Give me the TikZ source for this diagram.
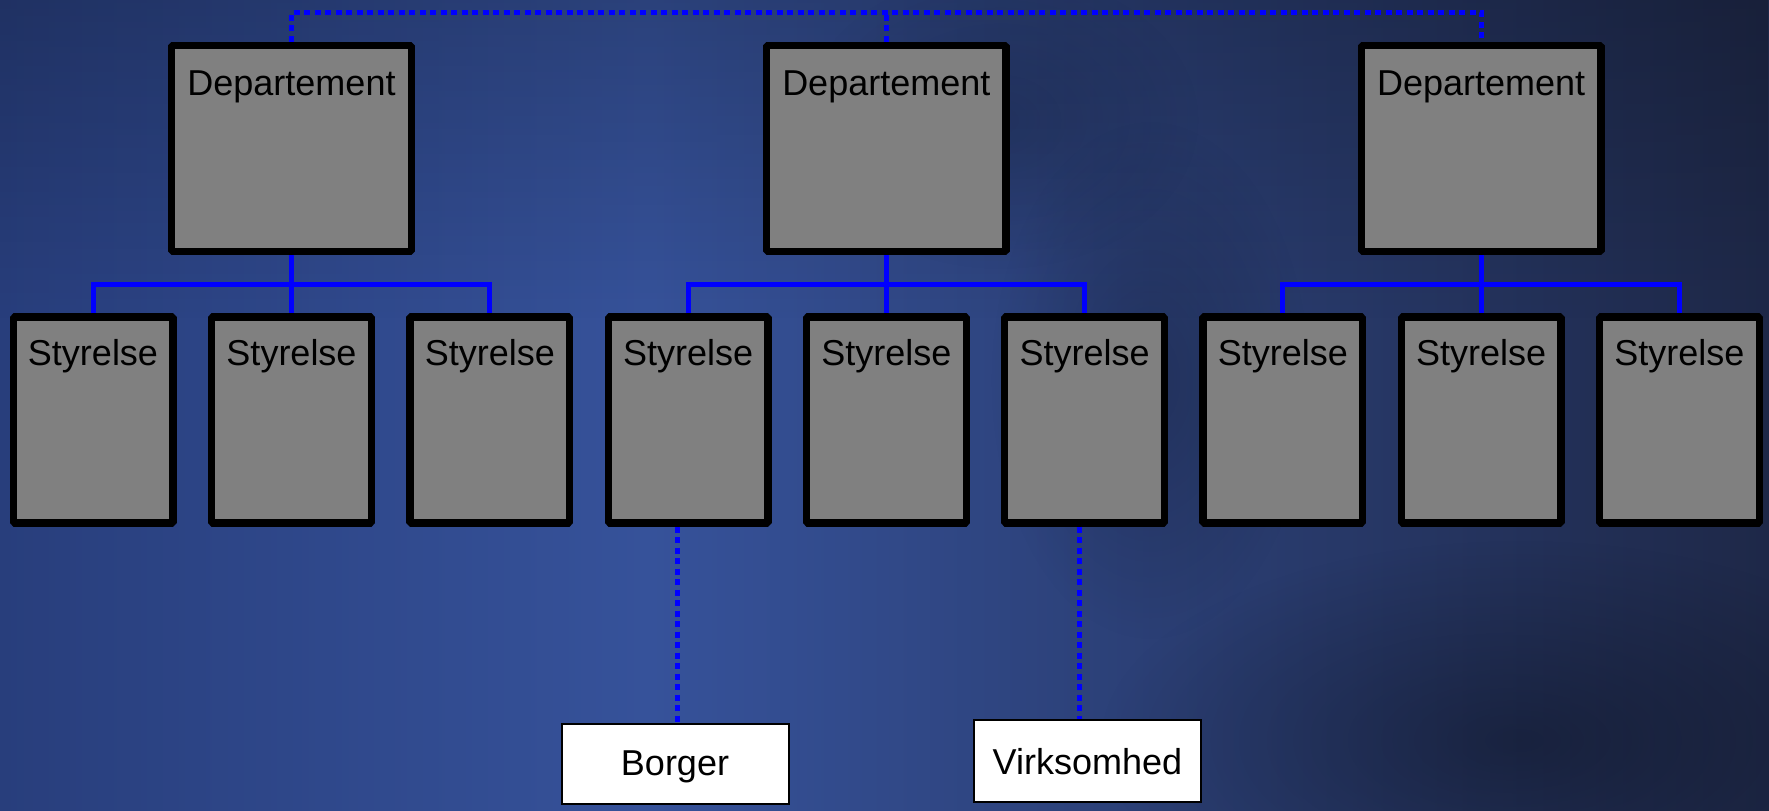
\documentclass[tikz,border=0pt]{standalone}
\usepackage{fontspec}
\setmainfont{Liberation Sans}
\usetikzlibrary{fadings}
\definecolor{boxgray}{RGB}{128,128,128}
\definecolor{bgA}{RGB}{40,62,124}
\definecolor{bgB}{RGB}{54,82,154}
\definecolor{bgC}{RGB}{30,40,72}
\definecolor{linkblue}{RGB}{0,0,255}
\tikzfading[name=topdark, top color=transparent!80, bottom color=transparent!100]
\tikzfading[name=softspot, inner color=transparent!0, outer color=transparent!100]
\begin{document}
\begin{tikzpicture}[x=0.5pt,y=-0.5pt,
  base/.style={draw=black,fill=boxgray,line join=bevel,inner sep=0pt,
    font=\fontsize{18pt}{20pt}\selectfont,text=black},
  deptbox/.style={base,line width=3.65pt,minimum width=119.75pt,text height=24.85pt,text depth=78.15pt},
  styrbox/.style={base,line width=3.65pt,minimum width=79.85pt,text height=24pt,text depth=79pt},
  extbox/.style={draw=black,fill=white,line width=1pt,inner sep=0pt,minimum width=113.5pt,
    font=\fontsize{18pt}{20pt}\selectfont,text=black},
  tree/.style={draw=linkblue,line width=2.5pt},
  dotline/.style={draw=linkblue,line width=2.5pt,dash pattern=on 3pt off 2.25pt}
]
\useasboundingbox (0,0) rectangle (1769,810);
% background
\shade[left color=bgA, right color=bgB] (0,0) rectangle (650,810);
\shade[left color=bgB, right color=bgC] (650,0) rectangle (1769,810);
\fill[black, path fading=topdark] (0,0) rectangle (1769,320);
\fill[black, opacity=0.3, path fading=softspot] (1520,740) ellipse (420 and 200);
\fill[black, opacity=0.2, path fading=softspot] (1150,380) ellipse (160 and 260);
\fill[black, opacity=0.15, path fading=softspot] (1000,120) ellipse (200 and 150);

% departments
\node[deptbox] (d1) at (291.5,148.3) {Departement};
\node[deptbox] (d2) at (886.3,148.3) {Departement};
\node[deptbox] (d3) at (1481.1,148.3) {Departement};

% styrelser
\node[styrbox] (s1) at (93,420) {Styrelse};
\node[styrbox] (s2) at (291.5,420) {Styrelse};
\node[styrbox] (s3) at (489.8,420) {Styrelse};
\node[styrbox] (s4) at (688.1,420) {Styrelse};
\node[styrbox] (s5) at (886.3,420) {Styrelse};
\node[styrbox] (s6) at (1084.6,420) {Styrelse};
\node[styrbox] (s7) at (1282.9,420) {Styrelse};
\node[styrbox] (s8) at (1481.1,420) {Styrelse};
\node[styrbox] (s9) at (1679.4,420) {Styrelse};

% external
\node[extbox,text height=25.5pt,text depth=14.5pt] (bor) at (675,764) {Borger};
\node[extbox,text height=27pt,text depth=14.2pt] (virk) at (1087.4,761.2) {Virksomhed};

\coordinate (topl) at (0,12.3);
\coordinate (bar) at (0,284);

% dotted top link
\draw[dotline] (d1.north) -- (d1.north |- topl) -- (d3.north |- topl) -- (d3.north);
\draw[dotline] (d2.north) -- (d2.north |- topl);

% trees
\foreach \d/\a/\b/\c in {d1/s1/s2/s3, d2/s4/s5/s6, d3/s7/s8/s9}{
  \draw[tree] (\d.south) -- (\b.north);
  \draw[tree] (\a.north) -- (\a.north |- bar) -- (\c.north |- bar) -- (\c.north);
}

% dotted links to external
\draw[dotline] ([xshift=-5.3pt]s4.south) -- ([xshift=-5.3pt]s4.south |- bor.north);
\draw[dotline] ([xshift=-2.65pt]s6.south) -- ([xshift=-2.65pt]s6.south |- virk.north);
\end{tikzpicture}
\end{document}
